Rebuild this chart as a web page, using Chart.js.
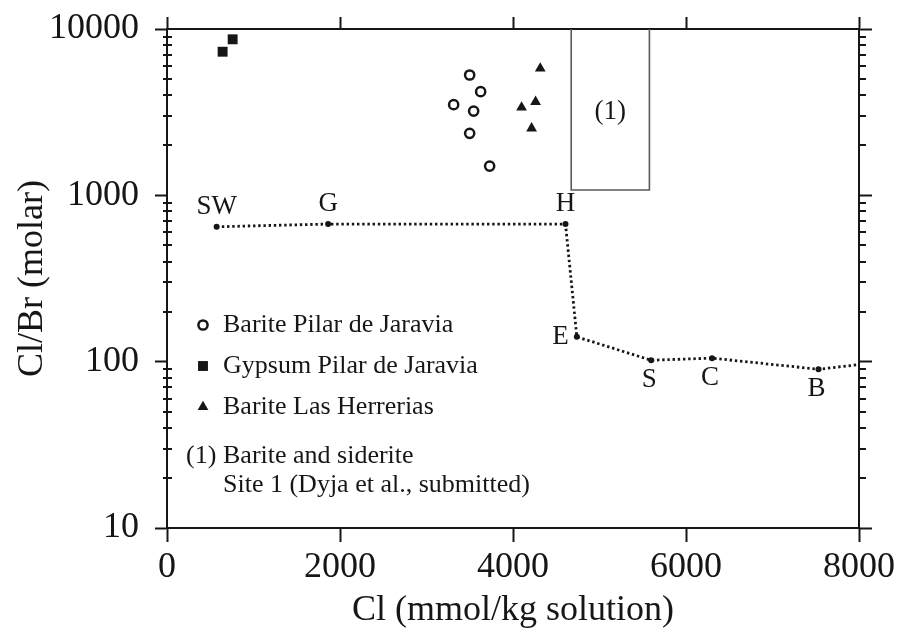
<!DOCTYPE html>
<html>
<head>
<meta charset="utf-8">
<script src="https://cdn.jsdelivr.net/npm/chart.js@4.4.1/dist/chart.umd.min.js"></script>
<style>
  html, body { margin: 0; padding: 0; background: #fff; }
  #wrap { position: relative; width: 898px; height: 635px; }
</style>
</head>
<body>
<div id="wrap"><canvas id="chart"></canvas></div>
<script>
// Cl/Br (molar) vs Cl (mmol/kg) — fluid data with the seawater evaporation path

const baritePilarCl    = [3499, 3626, 3314, 3545, 3499, 3730];
const baritePilarRatio = [5290, 4200, 3510, 3210, 2360, 1500];

const gypsumPilarCl    = [643, 759];
const gypsumPilarRatio = [7300, 8670];

const bariteHerrCl     = [4315, 4261, 4099, 4215];
const bariteHerrRatio  = [5800, 3650, 3380, 2530];

// evaporation path points (last one only runs the line out to the axis)
const evapLabels = ["SW", "G", "H", "E", "S", "C", "B", ""];
const evapCl     = [574, 1863, 4607, 4738, 5597, 6301, 7532, 8000];
const evapRatio  = [647, 672, 672, 141, 102, 105, 90, 96];

// field (1): barite and siderite, Site 1
const siteBoxCl    = [4673, 4673, 5577, 5577];
const siteBoxRatio = [10000, 1076, 1076, 10000];

const xTicks = [0, 2000, 4000, 6000, 8000];
const yTicks = [10, 100, 1000, 10000];

const legendItems = [
  { style: "circle",   text: "Barite Pilar de Jaravia" },
  { style: "rect",     text: "Gypsum Pilar de Jaravia" },
  { style: "triangle", text: "Barite Las Herrerias" },
];

const INK = "#161616";
const SERIF = "'Liberation Serif', 'DejaVu Serif', serif";

const zip = (xs, ys) => xs.map((x, i) => ({ x, y: ys[i] }));

// where each path label sits relative to its point
const evapLabelPos = ["above", "above", "above", "left", "below", "below", "below", ""];

const pointStyles = {
  circle:   { pointStyle: "circle",   radius: 4.6, borderWidth: 2.5, fill: "#fff" },
  rect:     { pointStyle: "rect",     radius: 7,   borderWidth: 0,   fill: INK },
  triangle: { pointStyle: "triangle", radius: 6.2, borderWidth: 0,   fill: INK },
};

const minorTicks = {
  id: "minorTicks",
  afterDraw(chart) {
    const { ctx, chartArea: a, scales: { y } } = chart;
    ctx.save();
    ctx.strokeStyle = INK;
    ctx.lineWidth = 2;
    ctx.beginPath();
    for (let d = 10; d < 10000; d *= 10) {
      for (let m = 2; m <= 9; m++) {
        const py = Math.round(y.getPixelForValue(m * d));
        ctx.moveTo(a.left - 4, py); ctx.lineTo(a.left + 5, py);
        ctx.moveTo(a.right, py);    ctx.lineTo(a.right + 7, py);
      }
    }
    ctx.stroke();
    ctx.restore();
  }
};

const annotations = {
  id: "annotations",
  afterDatasetsDraw(chart) {
    const { ctx, scales: { x, y } } = chart;
    ctx.save();
    ctx.fillStyle = INK;
    ctx.font = `27px ${SERIF}`;
    ctx.textBaseline = "middle";

    // path labels
    evapLabels.forEach((lbl, i) => {
      if (!lbl) return;
      const px = x.getPixelForValue(evapCl[i]);
      const py = y.getPixelForValue(evapRatio[i]);
      const pos = evapLabelPos[i];
      ctx.textAlign = pos === "left" ? "right" : "center";
      if (pos === "above") ctx.fillText(lbl, px, py - 20);
      else if (pos === "below") ctx.fillText(lbl, px - 2, py + 20);
      else ctx.fillText(lbl, px - 8, py);
    });

    // "(1)" inside the field box
    ctx.textAlign = "center";
    ctx.fillText("(1)", (x.getPixelForValue(siteBoxCl[0]) + x.getPixelForValue(siteBoxCl[2])) / 2, 112);

    // legend
    ctx.font = `26px ${SERIF}`;
    ctx.textAlign = "left";
    ctx.textBaseline = "alphabetic";
    legendItems.forEach((it, i) => {
      const base = 332 + i * 41;
      const st = pointStyles[it.style];
      ctx.fillStyle = st.fill;
      ctx.strokeStyle = INK;
      ctx.lineWidth = st.borderWidth;
      Chart.helpers.drawPoint(ctx, { pointStyle: st.pointStyle, radius: st.radius, rotation: 0, borderWidth: st.borderWidth }, 203, base - 7);
      ctx.fillStyle = INK;
      ctx.fillText(it.text, 223, base);
    });
    ctx.fillText("(1)", 186, 463);
    ctx.fillText("Barite and siderite", 223, 463);
    ctx.fillText("Site 1 (Dyja et al., submitted)", 223, 492);
    ctx.restore();
  }
};

const axisLine = { display: true, color: INK, width: 2 };
const tickGrid = { display: true, drawOnChartArea: false, drawTicks: true, tickLength: 12, tickWidth: 2, tickColor: INK };
const tickFont = { family: SERIF, size: 36 };

// fixed box sizes so the plot area lands where the reference has it
const fixBox = (w, h) => s => {
  if (w != null) s.width = w;
  if (h != null) s.height = h;
  s.paddingTop = s.paddingBottom = s.paddingLeft = s.paddingRight = 0;
};

const markerSet = (label, xs, ys, key) => {
  const st = pointStyles[key];
  return {
    label,
    data: zip(xs, ys),
    pointStyle: st.pointStyle,
    pointRadius: st.radius,
    pointBorderWidth: st.borderWidth,
    pointBackgroundColor: st.fill,
    pointBorderColor: INK,
    showLine: false,
  };
};

new Chart(document.getElementById("chart"), {
  type: "scatter",
  data: {
    datasets: [
      {
        label: "Site 1 field",
        data: zip(siteBoxCl, siteBoxRatio),
        showLine: true,
        borderColor: "#5a5a5a",
        borderWidth: 1.6,
        pointRadius: 0,
        tension: 0,
      },
      {
        label: "Evaporation path",
        data: zip(evapCl, evapRatio),
        showLine: true,
        borderColor: INK,
        borderWidth: 2.8,
        borderDash: [2.4, 2.8],
        pointRadius: evapLabels.map(l => (l ? 3 : 0)),
        pointBackgroundColor: INK,
        pointBorderWidth: 0,
        tension: 0,
      },
      markerSet("Barite Pilar de Jaravia", baritePilarCl, baritePilarRatio, "circle"),
      markerSet("Gypsum Pilar de Jaravia", gypsumPilarCl, gypsumPilarRatio, "rect"),
      markerSet("Barite Las Herrerias", bariteHerrCl, bariteHerrRatio, "triangle"),
    ],
  },
  options: {
    responsive: true,
    maintainAspectRatio: false,
    animation: false,
    layout: { padding: 0, autoPadding: false },
    plugins: { legend: { display: false }, tooltip: { enabled: false } },
    scales: {
      x: {
        type: "linear", position: "bottom", min: 0, max: 8000,
        afterBuildTicks: s => { s.ticks = xTicks.map(v => ({ value: v })); },
        afterFit: fixBox(null, 107),
        ticks: { font: tickFont, color: INK, padding: 4, callback: v => String(v), maxRotation: 0 },
        grid: { ...tickGrid, tickLength: 14 },
        border: axisLine,
        title: { display: true, text: "Cl (mmol/kg solution)", font: tickFont, color: INK, padding: { top: 0, bottom: 3 } },
      },
      x2: {
        type: "linear", position: "top", min: 0, max: 8000,
        afterBuildTicks: s => { s.ticks = xTicks.map(v => ({ value: v })); },
        afterFit: fixBox(null, 29),
        ticks: { display: false },
        grid: tickGrid,
        border: axisLine,
      },
      y: {
        type: "logarithmic", position: "left", min: 10, max: 10000,
        afterBuildTicks: s => { s.ticks = yTicks.map(v => ({ value: v })); },
        afterFit: fixBox(167, null),
        ticks: { font: tickFont, color: INK, padding: 16, callback: v => String(v) },
        grid: tickGrid,
        border: axisLine,
        title: { display: true, text: "Cl/Br (molar)", font: tickFont, color: INK, padding: { top: 11, bottom: 0 } },
      },
      y2: {
        type: "logarithmic", position: "right", min: 10, max: 10000,
        afterBuildTicks: s => { s.ticks = yTicks.map(v => ({ value: v })); },
        afterFit: fixBox(39, null),
        ticks: { display: false },
        grid: { ...tickGrid, tickLength: 13 },
        border: axisLine,
      },
    },
  },
  plugins: [minorTicks, annotations],
});
</script>
</body>
</html>
